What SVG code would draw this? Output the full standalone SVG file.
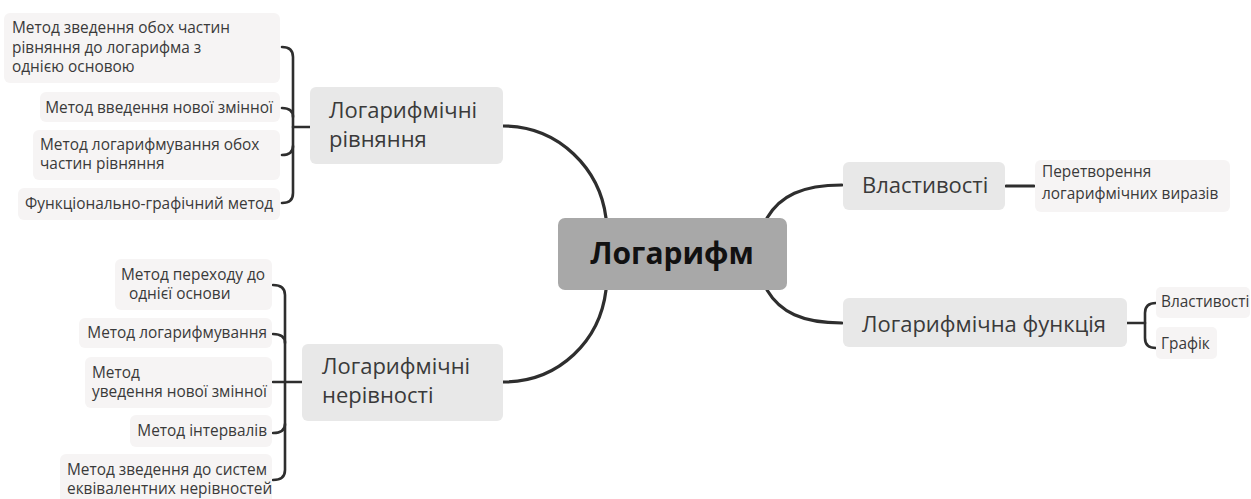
<svg xmlns="http://www.w3.org/2000/svg" width="1251" height="499" viewBox="0 0 1251 499">
<style>
text{font-family:"Open Sans","Noto Sans","DejaVu Sans",sans-serif;fill:#3a3a3a}
.leaf rect{fill:#f6f4f4}
.l1 rect{fill:#e8e8e8}
.leaf text{font-size:15.4px}
.l1 text{font-size:22px}
.r{text-anchor:end}
#connectors path{fill:none;stroke:#2e2e2e;stroke-linecap:round}
.main{stroke-width:3.2}
.br{stroke-width:2.6}
</style>
<rect width="1251" height="499" fill="#ffffff"/>
<g id="connectors">
<path class="main" d="M503 126 C560 126 600 170 606 218"/>
<path class="main" d="M606 290 C600 340 560 382 503 382"/>
<path class="main" d="M767 218 C780 196 802 185 842 185"/>
<path class="main" d="M767 290 C780 312 802 323 842 323"/>
<path class="main" d="M1006 186 L1034 186"/>
<path class="br" d="M282 47 Q293 47 293 57 L293 193 Q293 203 282 203"/>
<path class="br" d="M282 108 Q293 108 293 117"/>
<path class="br" d="M282 155 Q293 155 293 146"/>
<path class="br" d="M293 127 L310 127"/>
<path class="br" d="M273 285 Q285 285 285 295 L285 470 Q285 480 273 480"/>
<path class="br" d="M273 334 Q285 334 285 343"/>
<path class="br" d="M273 433 Q285 433 285 424"/>
<path class="br" d="M273 382 L302 382"/>
<path class="br" d="M1127 323 L1145 323"/>
<path class="br" d="M1156 303 Q1145 303 1145 313 L1145 338 Q1145 348 1156 348"/>
</g>
<g id="root">
<rect x="558" y="218" width="229" height="72" rx="7" fill="#a8a8a8"/>
<text x="672" y="264" text-anchor="middle" style="font-size:30px;font-weight:bold;fill:#111">Логарифм</text>
</g>
<g id="rivnyannya" class="l1">
<rect x="310" y="87" width="193" height="77" rx="6"/>
<text x="329" y="118">Логарифмічні</text>
<text x="329" y="147">рівняння</text>
</g>
<g id="nerivnosti" class="l1">
<rect x="302" y="344" width="201" height="77" rx="6"/>
<text x="322" y="374">Логарифмічні</text>
<text x="322" y="403">нерівності</text>
</g>
<g id="vlastyvosti" class="l1">
<rect x="843" y="162" width="162" height="48" rx="6"/>
<text x="862" y="193">Властивості</text>
</g>
<g id="funktsiya" class="l1">
<rect x="843" y="298" width="284" height="49" rx="6"/>
<text x="862" y="332">Логарифмічна функція</text>
</g>
<g id="peretvorennya" class="leaf">
<rect x="1035" y="160" width="195" height="52" rx="6"/>
<text x="1042" y="177">Перетворення</text>
<text x="1042" y="199">логарифмічних виразів</text>
</g>
<g id="f-vlastyvosti" class="leaf">
<rect x="1156" y="287" width="94" height="31" rx="5"/>
<text x="1161" y="307">Властивості</text>
</g>
<g id="f-hrafik" class="leaf">
<rect x="1156" y="327" width="61" height="32" rx="5"/>
<text x="1161" y="349">Графік</text>
</g>
<g id="r1" class="leaf">
<rect x="4" y="13" width="276" height="70" rx="6"/>
<text x="12" y="33">Метод зведення обох частин</text>
<text x="12" y="53">рівняння до логарифма з</text>
<text x="12" y="72">однією основою</text>
</g>
<g id="r2" class="leaf">
<rect x="40" y="92" width="240" height="30" rx="6"/>
<text class="r" x="273" y="113">Метод введення нової змінної</text>
</g>
<g id="r3" class="leaf">
<rect x="33" y="130" width="247" height="50" rx="6"/>
<text x="40" y="150">Метод логарифмування обох</text>
<text x="40" y="169">частин рівняння</text>
</g>
<g id="r4" class="leaf">
<rect x="18" y="188" width="262" height="32" rx="6"/>
<text class="r" x="273" y="209">Функціонально-графічний метод</text>
</g>
<g id="n1" class="leaf">
<rect x="115" y="259" width="157" height="51" rx="6"/>
<text x="121" y="280">Метод переходу до</text>
<text x="129" y="299">однієї основи</text>
</g>
<g id="n2" class="leaf">
<rect x="79" y="318" width="193" height="30" rx="6"/>
<text class="r" x="267" y="338">Метод логарифмування</text>
</g>
<g id="n3" class="leaf">
<rect x="85" y="357" width="187" height="51" rx="6"/>
<text x="92" y="378">Метод</text>
<text x="92" y="397">уведення нової змінної</text>
</g>
<g id="n4" class="leaf">
<rect x="130" y="415" width="142" height="32" rx="6"/>
<text class="r" x="267" y="436">Метод інтервалів</text>
</g>
<g id="n5" class="leaf">
<rect x="60" y="454" width="212" height="52" rx="6"/>
<text x="67" y="475">Метод зведення до систем</text>
<text x="67" y="494">еквівалентних нерівностей</text>
</g>
</svg>
